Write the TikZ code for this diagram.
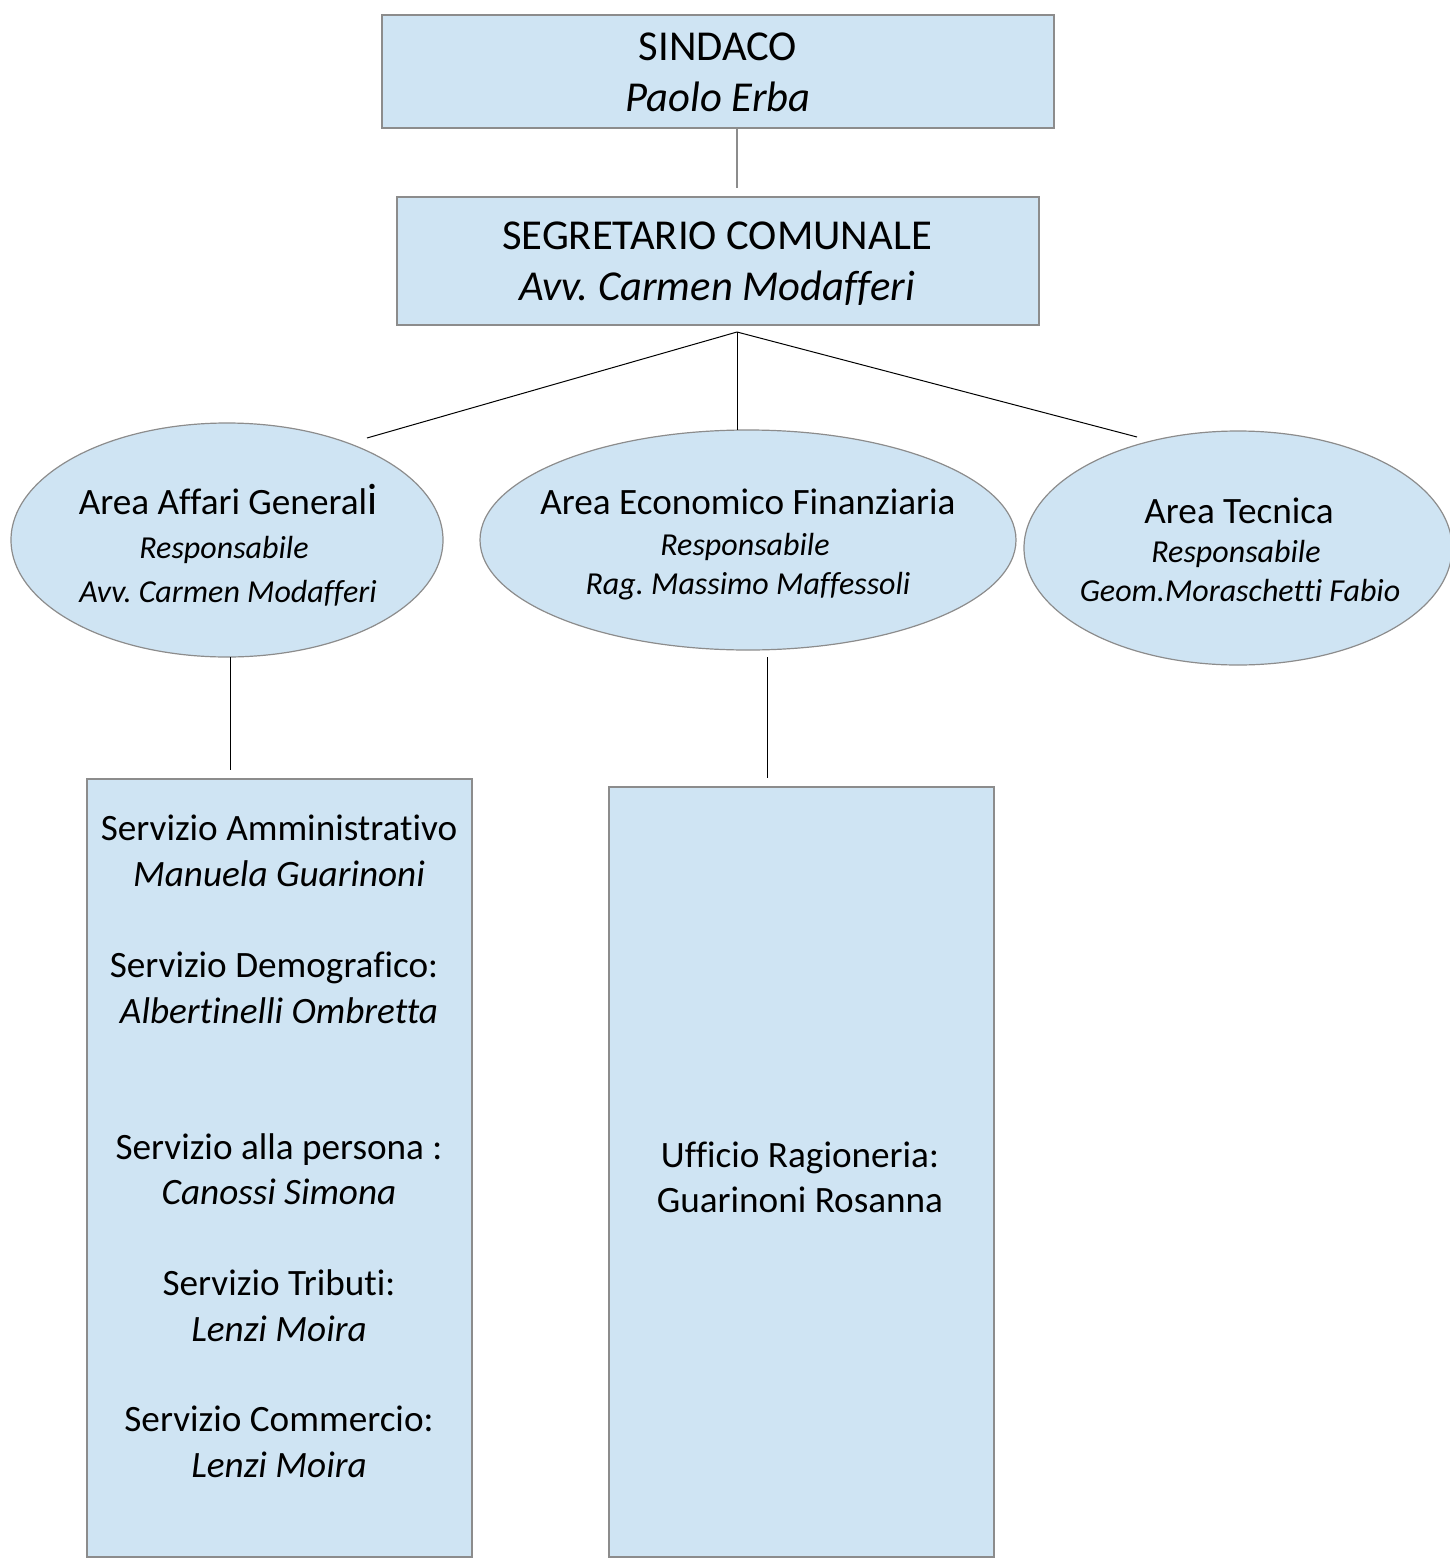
\documentclass[tikz,border=0pt]{standalone}
\usepackage{fontspec}
\setmainfont{Carlito}[RawFeature=-liga]
\frenchspacing
\usetikzlibrary{shapes.geometric}
\definecolor{boxfill}{RGB}{207,228,243}
\definecolor{boxline}{RGB}{140,140,140}
\tikzset{
  px/.style={x=0.5pt,y=-0.5pt},
  shapebox/.style={draw=boxline,fill=boxfill,line width=0.6pt,rectangle,inner sep=0pt},
  shapeell/.style={draw=boxline,fill=boxfill,line width=0.6pt,ellipse,inner sep=0pt},
  big/.style={font=\fontsize{21.3}{25}\selectfont,anchor=mid,inner sep=0pt},
  bigit/.style={font=\fontsize{21.3}{25}\selectfont\itshape,anchor=mid,inner sep=0pt},
  mid/.style={font=\fontsize{18.6}{22}\selectfont,anchor=mid,inner sep=0pt},
  midit/.style={font=\fontsize{18.6}{22}\selectfont\itshape,anchor=mid,inner sep=0pt},
  small/.style={font=\fontsize{16}{19}\selectfont\itshape,anchor=mid,inner sep=0pt},
  conn/.style={draw=black,line width=0.5pt},
  conngrey/.style={draw=boxline,line width=0.6pt}
}
\begin{document}
\begin{tikzpicture}[px]
\useasboundingbox (0,0) rectangle (1450,1558);
% shapes
\node[shapebox,minimum width=336pt,minimum height=56.5pt] (sind) at (718,71.5) {};
\node[shapebox,minimum width=321pt,minimum height=64pt] (segr) at (718,261) {};
\node[shapeell,minimum width=216pt,minimum height=117pt] (e1) at (227,540) {};
\node[shapeell,minimum width=268pt,minimum height=110pt] (e2) at (748,540) {};
\node[shapeell,minimum width=214pt,minimum height=117pt] (e3) at (1238,548) {};
\node[shapebox,minimum width=192.5pt,minimum height=389pt] (b1) at (279.5,1168) {};
\node[shapebox,minimum width=192.5pt,minimum height=385pt] (b2) at (801.5,1172) {};
% connector ends
\coordinate (c1a) at (737,128);
\coordinate (c1b) at (737,188);
\coordinate (sp) at (737,332);
\coordinate (t1) at (367,438);
\coordinate (t2) at (737,430);
\coordinate (t3) at (1137,437);
\coordinate (d1a) at (230,657);
\coordinate (d1b) at (230,770);
\coordinate (d2a) at (767,657);
\coordinate (d2b) at (767,778);
\draw[conngrey] (c1a) -- (c1b);
\draw[conn] (sp) -- (t1);
\draw[conn] (sp) -- (t2);
\draw[conn] (sp) -- (t3);
\draw[conn] (d1a) -- (d1b);
\draw[conn] (d2a) -- (d2b);
% texts
\node[big] (s1) at (718,56) {SINDACO};
\node[bigit] (s2) at (718,107) {Paolo Erba};
\node[big] (g1) at (717,245) {SEGRETARIO COMUNALE};
\node[bigit] (g2) at (717,296) {Avv. Carmen Modafferi};
\node[mid] (a1) at (228,510) {Area Affari General{\fontsize{22}{22}\selectfont i}};
\node[small] (a2) at (224,554) {Responsabile};
\node[small] (a3) at (228,598) {Avv. Carmen Modafferi};
\node[mid] (b1t) at (748,510) {Area Economico Finanziaria};
\node[small] (b2t) at (745,551) {Responsabile};
\node[small] (b3t) at (748,590) {Rag. Massimo Maffessoli};
\node[mid] (c1t) at (1239,519) {Area Tecnica};
\node[small] (c2t) at (1236,558) {Responsabile};
\node[small] (c3t) at (1240,597) {Geom.Moraschetti Fabio};
\node[mid] (l1) at (279,836) {Servizio Amministrativo};
\node[midit] (l2) at (279,882) {Manuela Guarinoni};
\node[mid] (l3) at (274,973) {Servizio Demografico:};
\node[midit] (l4) at (279,1019) {Albertinelli Ombretta};
\node[mid] (l5) at (279,1155) {Servizio alla persona :};
\node[midit] (l6) at (279,1200) {Canossi Simona};
\node[mid] (l7) at (279,1291) {Servizio Tributi:};
\node[midit] (l8) at (279,1337) {Lenzi Moira};
\node[mid] (l9) at (279,1427) {Servizio Commercio:};
\node[midit] (l10) at (279,1473) {Lenzi Moira};
\node[mid] (r1) at (800,1163) {Ufficio Ragioneria:};
\node[mid] (r2) at (800,1208) {Guarinoni Rosanna};
\end{tikzpicture}
\end{document}
